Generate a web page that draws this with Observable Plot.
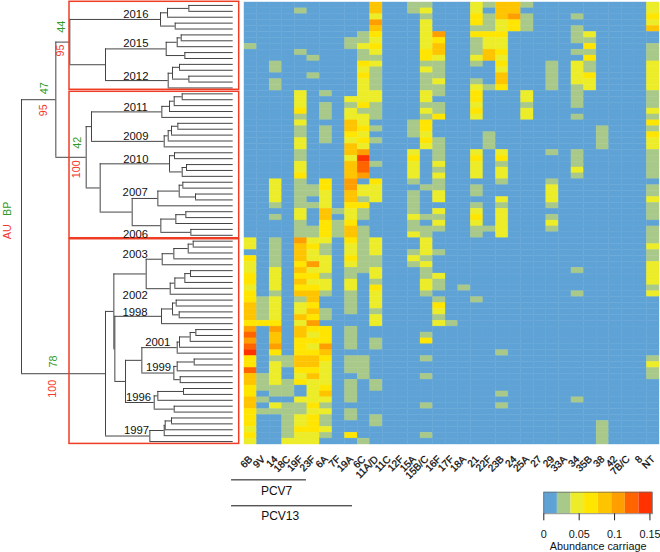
<!DOCTYPE html>
<html>
<head>
<meta charset="utf-8">
<script src="https://cdn.jsdelivr.net/npm/d3@7"></script>
<script src="https://cdn.jsdelivr.net/npm/@observablehq/plot@0.6"></script>
<style>
html,body{margin:0;padding:0;background:#fff}
#chart{position:relative;width:660px;height:552px;overflow:hidden}
#chart svg{position:absolute;left:0;top:0;overflow:visible;background:transparent}
</style>
</head>
<body>
<div id="chart"></div>
<script>
const FONT = "'Liberation Sans', Arial, sans-serif";

// ---- heat map data: abundance class per sample row, "first-last:class" ----
const serotypes = ["6B","9V","14","18C","19F","23F","6A","7F","19A","6C","11A/D","11C","12F","15A","15B/C","16F","17F","18A","21","22F","23B","24","25A","27","29","33A","34","35B","38","42","7B/C","8","NT"];
const abundance = {
 "6B":"7:1 40-41:2 43:3 44-45:2 46-47:3 48:2 49-50:3 51-53:4 54:3 55:5 56:6 57:5 58:6 59:7 60-61:3 62:6 63-64:4 65-66:3 67-68:4 69-71:3 72:2 73:3 74:2",
 "9V":"50-53:1 54:3 63-65:1 67:1 69:1",
 "14":"10-11:1 13-14:1 30-33:2 34:1 36:1 40-44:1 45-48:2 49:1 50-53:2 54:3 55:5 56-57:4 58:5 59:3 60:1 61-64:2 65-66:1 68:2 69:1",
 "18C":"60-61:1 64-66:1 68-73:1 74:2",
 "19F":"1:1 8:1 15-17:2 18:3 19:1 20:2 21-22:1 23-24:2 25-26:1 27-28:2 29:3 30-34:1 35-36:2 37-39:1 40:5 41-43:4 44:3 45:4 46:3 47:4 48:3 49:4 50:1 51-52:2 53:4 54:2 55-56:4 57-59:3 60-61:4 62:3 63:2 64:3 67:2 68-69:1 70-71:2 72:3 73-74:2",
 "23F":"9:1 12:1 31-32:1 34:1 38-39:1 40:2 41:3 42-43:2 44:5 45:2 46:3 47:2 48:3 49-50:4 51:3 52:4 53:3 54:5 55:3 56:2 57:3 58:2 59:3 60-61:4 62:3 63:4 64:2 65-67:2 68:3 69:2 70-72:3 73-74:2",
 "6A":"15:1 17-19:1 21-23:1 30-31:3 32-34:2 35-36:4 37-39:3 40:2 41-42:1 43-45:2 46:1 47-48:2 49:1 52-53:1 55-57:3 58:5 59:4 60:3 61-64:2 65:3 66:4 67:2 68:1 69:2 70-71:1 72:2 73:1",
 "7F":"35:1 37-39:1",
 "19A":"6-7:1 16:2 17:1 18-19:2 20-21:4 22:3 23:2 24-25:4 26:2 27-29:4 30-31:5 32-33:4 34:3 35-36:2 37:3 38-39:4 40:3 41-42:2 43:3 44:2 45-46:1 47-48:2 49-52:1 55-58:1 60-62:1 64-67:1 69-70:1 73:3",
 "6C":"5-6:1 7:2 8-9:1 10:3 11:2 12:3 13-16:2 17:3 18:1 19-20:2 21:3 22:2 23:3 24:2 25:5 26:7 27-28:6 29:5 31-32:2 33:1 34:3 35-36:1 38-45:1 60-63:1 74:1",
 "11A/D":"0-1:4 2:2 3:5 4:4 5:3 6:2 7:3 8:2 9:1 10:2 11-14:1 15-16:2 17-19:1 21:1 23:1 27:1 30:3 31-33:2 40-42:2 43-44:1 45-46:2 47:1 48:3 49-51:2 52:1 53-54:2 57-58:1 64-65:1 70-71:1",
 "15A":"0-1:1 20-22:1 25:2 26:3 27-29:2 30:1 32-35:1 36:2 37-38:1 39:2 42:1 43:2 44:1",
 "15B/C":"0:1 1:2 2:1 3-7:2 8-9:3 10:1 11:2 12-14:1 15-16:2 17:1 18:2 19:1 20-21:3 22:2 23:3 24:2 31:1 36:1 38-39:1 40-42:2 43:1 44:2 45-46:1 47-48:2 49:1 56:1 57:3 60:1 63:1 68:1 73:1",
 "16F":"5:5 6:3 7-8:4 9:2 10-12:1 13:2 14-15:1 17-18:1 19:3 23-26:1 27:2 28:1 29:2 30-31:1 32-33:2 35:2 36:1 37:2 38:1 42:1 46:2 47-48:1 50:1 51:3 52:2 53:1 54:2",
 "17F":"54:1",
 "18A":"48:1",
 "21":"0-1:2 2-3:3 4:1 5:3 6-8:1 9:2 10:1 13:1 14:2 15-16:3 17:2 18:3 19:2 25:2 26:3 27-29:2 31-32:1 34:1 35:2 36:3 37:2 38-39:1 50:1",
 "22F":"0:1 2-4:1 5:3 6-7:2 8-9:4 14:1 22-24:1 38:1",
 "23B":"0-2:4 3-4:2 5:3 6-7:2 8:3 9:2 10:3 11:2 12-13:4 14:3 25:2 26:3 27:1 28-29:2 30:1 33:2 34:1 35-39:2 59:1 66:1 68:1",
 "24":"0-1:4 2:5 3-4:3",
 "25A":"0:1 2-4:1 15-16:2 17:1 18-19:2",
 "29":"10-14:1 25:1 30:1 31-33:2 34:1 36:1 37:2 38:1",
 "34":"2:1 4-6:1 8:1 10-13:2 14-17:1 19:1 25-27:1 28:2 29:1 45:1 49:1 67:1",
 "35B":"5:2 6:1 7:3 8:1 9:3 10-11:1 12:3 13-14:2",
 "38":"21-24:1 71-74:1",
 "NT":"0-1:2 2:3 3:2 4:4 7-9:1 10-14:2 15-17:1 18:2 19:1 20:3 21:1 22:3 23-24:2 25-29:1 31-32:1 33:2 34-36:1 38-40:1 41:2 42-43:1 44-47:2 48:1 49:2 60:1 61:2 62-63:1"
};
const rowCount = 75;
const classWidth = 0.0192;
const classColors = ["#5fa3d6","#a9c98a","#ecec28","#ffe500","#ffc400","#ff9e00","#ff6400","#ff3200"];

// ---- dendrogram: [branch height, child, child]; 0 is a leaf, leaves read top to bottom ----
const c2016 = [218,[197,[133,0,0],0],[174,0,0]];
const c2015 = [201,[168,[156,0,0],0],[145,0,0]];
const c2012 = [195,[182,[161,0,0],[133,0,0]],0];
const c2011 = [214,[191,[177,[153,0,0],0],0],0];
const c2009 = [207,[195,[185,[166,0,0],0],0],0];
const c2010 = [191,[176,0,0],[153,[140,0,0],0]];
const c2007 = [226,[162,[151,0,0],[113,0,0]],0];
const c2006 = [217,[172,[142,0,0],0],[127,0,0]];
const c2003 = [213,[178,[135,[120,0,0],0],0],0];
const c2002 = [189,[175,[145,[128,0,0],0],0],0];
const c1998 = [215,[182,[171,0,0],[162,0,0]],0];
const c2001 = [168,[161,[129,[112,0,0],0],0],0];
const c1999 = [178,[168,[117,0,0],0],[159,0,0]];
const c1996 = [237,[226,[149,0,0],0],[177,0,0]];
const c1997 = [250,[207,[204,[185,0,0],0],0],0];
const cluster1 = [490,[490,c2016],[383,c2015,c2012]];
const cluster2 = [441,[425,c2011,c2009],[399,c2010,[303,c2007,c2006]]];
const cluster3 = [383,[358,[261,c2003,c2002],[355,c1998,[323,[274,c2001,c1999],c1996]]],c1997];
const treeRoot = [635,[532,cluster1,cluster2],cluster3];

const yearLabels = ["2016","2015","2012","2011","2009","2010","2007","2006","2003","2002","1998","2001","1999","1996","1997"];
const yearAnchors = [[292,2.04],[292,6.96],[292,12.5],[292.5,17.76],[292,22.8],[292,26.7],[294,32.24],[293,39.3],[294,42.77],[294,49.7],[294.5,52.6],[226.5,57.6],[224,61.9],[284,67],[290,72.6]];
const supportLabels = ["44","95","47","95","42","100","78","100","BP","AU"];
const supportKinds  = ["BP","AU","BP","AU","BP","AU","BP","AU","BP","AU"];
const supportAnchors = [[515,4.1],[518,8.15],[566,14.55],[570,18.3],[466,23.8],[469,28.3],[539,60.9],[541,65.55],[676,35],[678,38.9]];
const boxTops = [-0.12,15.15,40.17];
const boxBottoms = [14.81,40,74.9];

const vaccines = ["PCV7","PCV13"];
const vaccineSpans = [[-1.03,4.93],[-1.03,8.59]];
const vaccineRows = [81,85.4];
const vaccineLabelPos = [[2.55,82.9],[2.84,87.2]];

const legendTicks = [0,0.05,0.1,0.15];

// ---- derive marks' data through the scales ----
const cells = [];
for (const s of serotypes) {
  const levels = new Array(rowCount).fill(0);
  for (const tok of (abundance[s] || "").split(" ").filter(Boolean)) {
    const [range, lv] = tok.split(":");
    const [a, b = a] = range.split("-").map(Number);
    for (let r = a; r <= b; r++) levels[r] = +lv;
  }
  levels.forEach((lv, r) => cells.push({serotype: s, row: r, value: (lv + 0.5) * classWidth}));
}
const thresholds = d3.range(1, classColors.length).map(i => i * classWidth);
const colorScale = {type: "threshold", domain: thresholds, range: classColors};

const hSegs = [], vSegs = [];
let nextLeaf = 0;
function layout(node) {
  if (node === 0) return {h: 0, y: (nextLeaf++) + 0.5};
  const h = node[0];
  const kids = node.slice(1).map(layout);
  const ys = kids.map(k => k.y);
  for (const k of kids) hSegs.push({h1: h, h2: k.h, y: k.y});
  if (ys.length > 1) vSegs.push({h, y1: d3.min(ys), y2: d3.max(ys)});
  return {h, y: d3.mean(ys)};
}
layout(treeRoot);

const treeX = {domain: [635, 0], range: [21, 232.7]};
const rowsY = {domain: [0, 75], range: [2, 444]};
const chart = document.getElementById("chart");

// heat map
chart.append(Plot.plot({
  width: 660, height: 552, marginLeft: 244, marginRight: 1, marginTop: 2, marginBottom: 108,
  style: {fontFamily: FONT, background: "transparent"},
  x: {domain: serotypes, padding: 0, round: false, axis: null},
  y: {domain: d3.range(rowCount), padding: 0, round: false, axis: null},
  color: colorScale,
  marks: [
    Plot.cell(cells, {x: "serotype", y: "row", fill: "value", stroke: "value", strokeWidth: 0.4}),
    Plot.axisX({anchor: "bottom", tickSize: 0, tickPadding: 13, tickRotate: -45, fontSize: 10, fontWeight: 400, label: null, fill: "#111", textStroke: "#111", textStrokeWidth: 0.3})
  ]
}));

// dendrogram
const stemColor = "#3a3a3a";
chart.append(Plot.plot({
  width: 660, height: 552, margin: 0,
  style: {fontFamily: FONT, background: "transparent"},
  x: {...treeX, axis: null},
  y: {...rowsY, axis: null},
  marks: [
    Plot.ruleY(hSegs, {y: "y", x1: "h1", x2: "h2", stroke: stemColor, strokeWidth: 0.95}),
    Plot.ruleX(vSegs, {x: "h", y1: "y1", y2: "y2", stroke: stemColor, strokeWidth: 0.95}),
    Plot.rect(boxTops, {x1: 491, x2: -18, y1: (d) => d, y2: (d, i) => boxBottoms[i], fill: "none", stroke: "#ee3d24", strokeWidth: 1.5}),
    Plot.text(yearLabels, {x: (d, i) => yearAnchors[i][0], y: (d, i) => yearAnchors[i][1], text: (d) => d, fontSize: 11.3, fill: "#111"}),
    Plot.text(supportLabels, {x: (d, i) => supportAnchors[i][0], y: (d, i) => supportAnchors[i][1], text: (d) => d, rotate: -90, fontSize: 10.8,
      fill: (d, i) => supportKinds[i] === "BP" ? "#2f9a2a" : "#f4372c"})
  ]
}));

// vaccine brackets
chart.append(Plot.plot({
  width: 660, height: 552, margin: 0,
  style: {fontFamily: FONT, background: "transparent"},
  x: {domain: [0, 33], range: [244, 659], axis: null},
  y: {...rowsY, axis: null},
  marks: [
    Plot.ruleY(vaccines, {y: (d, i) => vaccineRows[i], x1: (d, i) => vaccineSpans[i][0], x2: (d, i) => vaccineSpans[i][1], stroke: "#111", strokeWidth: 1}),
    Plot.text(vaccines, {x: (d, i) => vaccineLabelPos[i][0], y: (d, i) => vaccineLabelPos[i][1], text: (d) => d, fontSize: 12, fill: "#111"})
  ]
}));

// colour legend
chart.append(Plot.plot({
  width: 660, height: 552, marginTop: 491.7, marginBottom: 38.7, marginLeft: 543.3, marginRight: 8,
  style: {fontFamily: FONT, background: "transparent"},
  x: {domain: [0, classWidth * classColors.length], axis: null},
  y: {axis: null},
  color: colorScale,
  marks: [
    Plot.rectY(classColors, {x1: (d, i) => i * classWidth, x2: (d, i) => (i + 1) * classWidth, y: 1, fill: (d, i) => (i + 0.5) * classWidth}),
    Plot.frame({stroke: "#666", strokeWidth: 0.7}),
    Plot.axisX(legendTicks, {anchor: "bottom", tickSize: 7, tickPadding: 9.5, fontSize: 10.8, label: null, tickFormat: (d) => String(d), stroke: "#222", fill: "#111"}),
    Plot.text(["Abundance carriage"], {frameAnchor: "bottom", dy: 36.5, fontSize: 10.8, fill: "#111", text: (d) => d})
  ]
}));
</script>
</body>
</html>
